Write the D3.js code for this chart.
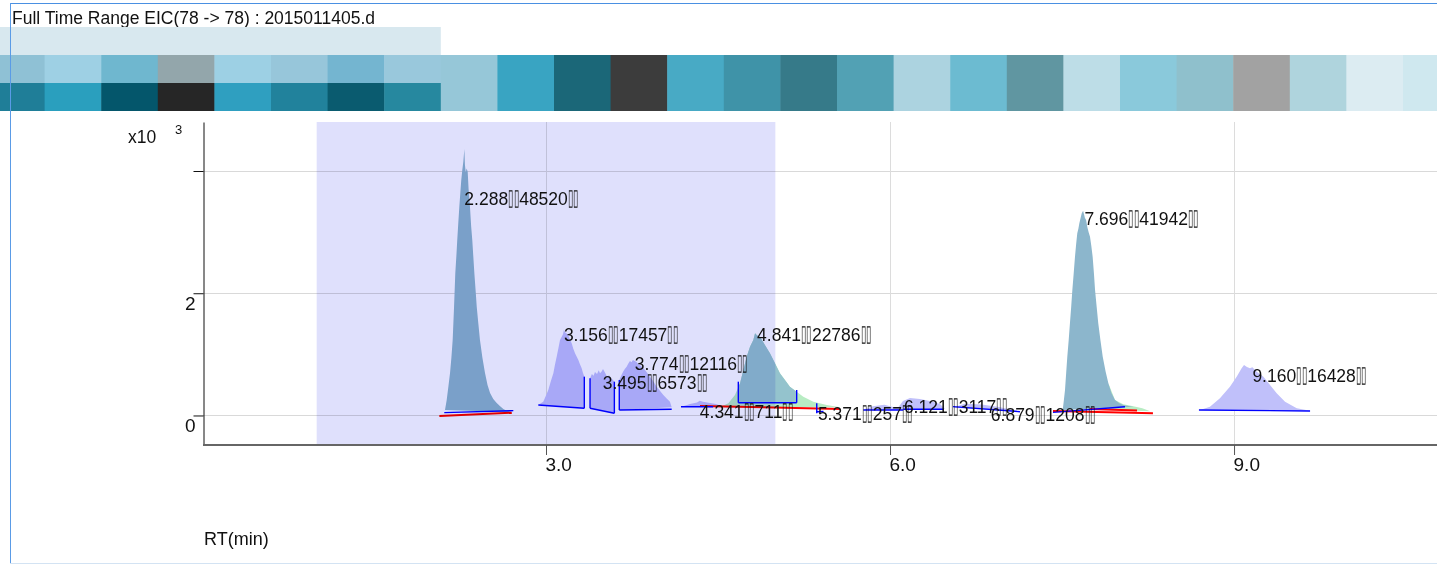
<!DOCTYPE html>
<html>
<head>
<meta charset="utf-8">
<script src="https://cdn.jsdelivr.net/npm/d3@7"></script>
<style>
  html, body { margin: 0; padding: 0; background: #fff; }
  svg { display: block; font-family: "Liberation Sans", Arial, sans-serif; }
</style>
</head>
<body>
<svg id="chart" width="1437" height="564"></svg>
<script>
// ---- text ----
const title = "Full Time Range EIC(78 -> 78) : 2015011405.d";
const xTitle = "RT(min)";
const yMultiplier = "x10";
const yExponent = "3";

// ---- axes ----
const xTicks = [3, 6, 9];
const yTicks = [0, 2000, 4000];
const yTickLabels = ["0", "2", ""];
const selectionRange = [1.0, 5.0];

// ---- colour strip (plate overview) ----
const stripUpper = ["#8fc1d5", "#9ed0e4", "#6fb7cf", "#93a6ab", "#9dd0e4", "#97c6da", "#74b5d0", "#99c8dc"];
const stripLower = ["#1f7e98", "#2a9fbe", "#04566b", "#262626", "#2f9fc0", "#21829c", "#0a5b6f", "#26889f"];
const stripWide = ["#96c7d8", "#39a4c2", "#1b6778", "#3c3c3c", "#48aac5", "#3f93a8", "#367a89", "#52a1b4",
                   "#acd3e0", "#6cbbd1", "#6096a1", "#bddde7", "#8ac9db", "#8fc0cc", "#a2a2a2", "#afd4dd",
                   "#dcecf2", "#cfe8ef"];

// ---- integrated peaks: retention time, area, label height (counts) ----
const peakRT = [2.288, 3.156, 3.495, 3.774, 4.341, 4.841, 5.371, 6.121, 6.879, 7.696, 9.160];
const peakArea = [48520, 17457, 6573, 12116, 711, 22786, 257, 3117, 1208, 41942, 16428];
const labelLevel = [3444, 1219, 433, 744, -41, 1219, -74, 41, -90, 3117, 548];

// ---- EIC trace segments [RT (min), counts] ----
const trace2288 = [[2.119,90],[2.134,254],[2.149,480],[2.163,695],[2.175,950],[2.186,1235],[2.198,1775],[2.209,2331],
  [2.218,2600],[2.226,2871],[2.235,3150],[2.244,3411],[2.253,3650],[2.261,3853],[2.270,4017],[2.279,4150],[2.288,4360],
  [2.293,4100],[2.300,3980],[2.308,4040],[2.317,3990],[2.325,3700],[2.337,3411],[2.347,3100],[2.357,2871],[2.366,2600],
  [2.375,2331],[2.386,2050],[2.396,1775],[2.410,1500],[2.424,1235],[2.445,950],[2.468,695],[2.490,500],[2.512,368],
  [2.540,270],[2.570,204],[2.600,150],[2.628,106],[2.660,75],[2.701,57]];
const trace3156 = [[2.933,172],[2.955,200],[2.976,226],[2.998,320],[3.020,417],[3.042,560],[3.064,690],[3.078,830],
  [3.093,962],[3.108,1100],[3.122,1235],[3.137,1290],[3.148,1330],[3.156,1399],[3.166,1360],[3.180,1340],[3.194,1317],
  [3.209,1240],[3.224,1181],[3.238,1090],[3.253,1018],[3.268,960],[3.282,908],[3.296,840],[3.311,772],[3.322,700],
  [3.334,635],[3.334,118]];
const trace3495 = [[3.384,118],[3.384,609],[3.400,680],[3.415,650],[3.427,712],[3.445,680],[3.460,740],[3.471,690],
  [3.485,720],[3.497,760],[3.515,700],[3.532,635],[3.550,660],[3.567,609],[3.580,590],[3.596,553],[3.596,36]];
const trace3774 = [[3.639,90],[3.639,581],[3.655,650],[3.671,712],[3.687,760],[3.703,798],[3.718,850],[3.732,892],
  [3.745,870],[3.758,908],[3.774,890],[3.790,875],[3.805,840],[3.819,826],[3.840,790],[3.863,744],[3.885,690],
  [3.906,635],[3.935,560],[3.965,471],[3.995,400],[4.023,335],[4.050,280],[4.081,226],[4.096,134]];
const trace4341 = [[4.195,150],[4.256,188],[4.317,213],[4.341,240],[4.369,226],[4.430,204],[4.482,188],[4.535,150]];
const trace4841 = [[4.517,134],[4.590,200],[4.648,335],[4.692,527],[4.721,744],[4.750,962],[4.779,1126],[4.808,1235],
  [4.823,1345],[4.841,1310],[4.866,1289],[4.909,1153],[4.953,1018],[4.997,854],[5.040,690],[5.084,581],[5.127,471],
  [5.186,389],[5.244,308],[5.331,226],[5.448,172],[5.564,134]];
const area4841 = [[4.677,209],[4.677,466],[4.692,527],[4.721,744],[4.750,962],[4.779,1126],[4.808,1235],[4.823,1345],
  [4.841,1310],[4.866,1289],[4.909,1153],[4.953,1018],[4.997,854],[5.040,690],[5.084,581],[5.127,471],[5.186,389],
  [5.186,209]];
const trace5900 = [[5.767,90],[5.850,150],[5.950,175],[6.050,125],[6.116,90]];
const trace6121 = [[6.061,106],[6.113,237],[6.174,286],[6.261,270],[6.349,237],[6.436,188],[6.479,106]];
const trace6879 = [[6.549,128],[6.650,190],[6.800,180],[6.950,140],[7.133,62]];
const trace7696 = [[7.506,90],[7.516,250],[7.526,417],[7.536,690],[7.546,962],[7.558,1230],[7.569,1508],[7.580,1780],
  [7.590,2053],[7.602,2330],[7.613,2598],[7.623,2800],[7.633,2981],[7.643,3060],[7.651,3144],[7.662,3230],[7.672,3308],
  [7.684,3351],[7.692,3290],[7.700,3230],[7.710,3198],[7.720,3089],[7.732,3000],[7.744,2925],[7.755,2780],[7.767,2598],
  [7.778,2330],[7.788,2053],[7.802,1780],[7.816,1508],[7.835,1230],[7.855,962],[7.880,720],[7.904,527],[7.930,370],
  [7.962,254],[8.000,200],[8.034,172],[8.080,155],[8.122,144]];
const tail7696 = [[7.904,90],[7.904,527],[7.962,254],[8.034,185],[8.122,150],[8.200,118],[8.270,70]];
const trace9160 = [[8.703,90],[8.790,144],[8.877,281],[8.964,471],[9.023,635],[9.066,772],[9.087,826],[9.113,793],
  [9.139,772],[9.160,790],[9.198,717],[9.256,635],[9.314,499],[9.372,363],[9.445,226],[9.547,118],[9.663,79]];

// ---- integration baselines and split markers ----
const blueSegments = [
  [[2.113,46],[2.715,79]],
  [[2.933,172],[3.334,118]], [[3.334,635],[3.334,118]],
  [[3.384,609],[3.384,118]], [[3.384,118],[3.596,36]], [[3.596,553],[3.596,36]],
  [[3.639,581],[3.639,90]], [[3.639,90],[4.096,101]],
  [[4.177,144],[4.457,144]],
  [[4.677,553],[4.677,209]], [[4.677,209],[5.186,209]], [[5.186,417],[5.186,209]],
  [[5.361,200],[5.361,36]], [[5.361,60],[5.420,66]],
  [[5.767,90],[6.116,90]], [[6.116,101],[6.470,101]], [[6.549,145],[7.133,62]],
  [[7.421,51],[8.049,144]],
  [[8.694,90],[9.663,74]]
];
const redSegments = [
  [[2.070,-8],[2.701,46]],
  [[4.343,155],[5.564,108]],
  [[7.421,74],[8.293,36]],
  [[7.744,105],[8.154,80]]
];

// ---------------------------------------------------------------
const svg = d3.select("#chart");
const W = 1437, H = 564;

svg.append("rect").attr("width", W).attr("height", H).attr("fill", "#fff");

// title
svg.append("text").attr("x", 12).attr("y", 24)
  .style("font-size", "17.5px").attr("fill", "#111").text(title);

// colour strip
const cell = d3.scaleBand().domain(d3.range(stripUpper.length + stripWide.length)).range([-12, -12 + 26 * 56.6]);
const strip = svg.append("g");
strip.append("rect").attr("x", 0).attr("y", 27).attr("width", cell(stripUpper.length)).attr("height", 28).attr("fill", "#d8e8ef");
strip.selectAll("rect.up").data(stripUpper).join("rect").attr("class", "up")
  .attr("x", (d, i) => cell(i)).attr("y", 55).attr("width", cell.bandwidth() + 0.5).attr("height", 28).attr("fill", d => d);
strip.selectAll("rect.lo").data(stripLower).join("rect").attr("class", "lo")
  .attr("x", (d, i) => cell(i)).attr("y", 83).attr("width", cell.bandwidth() + 0.5).attr("height", 28).attr("fill", d => d);
strip.selectAll("rect.wide").data(stripWide).join("rect").attr("class", "wide")
  .attr("x", (d, i) => cell(i + stripUpper.length)).attr("y", 55).attr("width", cell.bandwidth() + 0.5).attr("height", 56).attr("fill", d => d);

// scales
const x = d3.scaleLinear().domain([0, 10.77]).range([202, 1437]);
const y = d3.scaleLinear().domain([-483, 4802]).range([445, 122]);

const plot = svg.append("g");

// gridlines
plot.selectAll("line.gy").data(yTicks).join("line").attr("class", "gy")
  .attr("x1", 203).attr("x2", W).attr("y1", d => Math.round(y(d)) + 0.5).attr("y2", d => Math.round(y(d)) + 0.5)
  .attr("stroke", "#d9d9d9");
plot.selectAll("line.gx").data(xTicks).join("line").attr("class", "gx")
  .attr("x1", d => Math.round(x(d)) + 0.5).attr("x2", d => Math.round(x(d)) + 0.5).attr("y1", y.range()[1]).attr("y2", y.range()[0])
  .attr("stroke", "#dcdcdc");

// peaks
const line = d3.line().x(d => x(d[0])).y(d => y(d[1]));
const fillShape = pts => line(pts) + "Z";
const green = "#b8ecc3", steel = "#8cb6cc", lavender = "#c0c0fa", teal = "#94c3cd";
const fills = [
  [trace4841, green], [tail7696, green],
  [trace2288, steel], [trace7696, steel], [area4841, teal],
  [trace3156, lavender], [trace3495, lavender], [trace3774, lavender], [trace4341, lavender],
  [trace5900, lavender], [trace6121, lavender], [trace6879, lavender], [trace9160, lavender]
];
plot.selectAll("path.peak").data(fills).join("path").attr("class", "peak")
  .attr("d", d => fillShape(d[0])).attr("fill", d => d[1]);

plot.selectAll("path.red").data(redSegments).join("path").attr("class", "red")
  .attr("d", line).attr("fill", "none").attr("stroke", "#ff0000").attr("stroke-width", 2);
plot.selectAll("path.blue").data(blueSegments).join("path").attr("class", "blue")
  .attr("d", line).attr("fill", "none").attr("stroke", "#0000ff").attr("stroke-width", 1.4);

// selected time range
plot.append("rect")
  .attr("x", x(selectionRange[0])).attr("width", x(selectionRange[1]) - x(selectionRange[0]))
  .attr("y", y.range()[1]).attr("height", y.range()[0] - y.range()[1])
  .attr("fill", "#dfe0fc").style("mix-blend-mode", "multiply");

// axes
const yAxis = svg.append("g").attr("transform", "translate(203.5,0)")
  .call(d3.axisLeft(y).tickValues(yTicks).tickFormat((d, i) => yTickLabels[i]).tickSize(10).tickSizeOuter(0));
yAxis.select(".domain").attr("stroke", "#111");
yAxis.selectAll(".tick line").attr("stroke", "#111");
yAxis.selectAll(".tick text").attr("x", -8).attr("dy", "0.84em")
  .style("font-size", "19px").style("font-family", "Liberation Sans, Arial, sans-serif").attr("fill", "#111");

const xAxis = svg.append("g").attr("transform", "translate(0,445)")
  .call(d3.axisBottom(x).tickValues(xTicks).tickFormat(d3.format(".1f")).tickSize(10).tickSizeOuter(0));
xAxis.select(".domain").attr("stroke", "#666").attr("stroke-width", 2).attr("d", `M203,0H${W}`);
xAxis.selectAll(".tick line").attr("stroke", "#555");
xAxis.selectAll(".tick text").attr("text-anchor", "start").attr("x", -1).attr("y", 13)
  .style("font-size", "19px").style("font-family", "Liberation Sans, Arial, sans-serif").attr("fill", "#111");

// y multiplier
svg.append("text").attr("x", 128).attr("y", 143).style("font-size", "17.5px").attr("fill", "#111").text(yMultiplier);
svg.append("text").attr("x", 175).attr("y", 134).style("font-size", "13px").attr("fill", "#111").text(yExponent);

// x title
svg.append("text").attr("x", 204).attr("y", 545).style("font-size", "18px").attr("fill", "#111").text(xTitle);

// peak labels: RT, area
const labels = svg.append("g").selectAll("text").data(peakRT).join("text")
  .attr("x", d => x(d)).attr("y", (d, i) => y(labelLevel[i]))
  .style("font-size", "17.5px").attr("fill", "#111");
labels.each(function (d, i) {
  const t = d3.select(this);
  t.append("tspan").text(d.toFixed(3));
  t.append("tspan").style("font-size", "23px").attr("textLength", 11).attr("lengthAdjust", "spacingAndGlyphs").text("\u25AF\u25AF");
  t.append("tspan").text(peakArea[i]);
  t.append("tspan").style("font-size", "23px").attr("textLength", 11).attr("lengthAdjust", "spacingAndGlyphs").text("\u25AF\u25AF");
});

// window frame
svg.append("line").attr("x1", 10).attr("x2", W).attr("y1", 3.5).attr("y2", 3.5).attr("stroke", "#4a90e2");
svg.append("line").attr("x1", 10.5).attr("x2", 10.5).attr("y1", 3).attr("y2", H).attr("stroke", "#5a9be6");
svg.append("line").attr("x1", 10).attr("x2", W).attr("y1", 563.5).attr("y2", 563.5).attr("stroke", "#d3e3f3");
</script>
</body>
</html>
